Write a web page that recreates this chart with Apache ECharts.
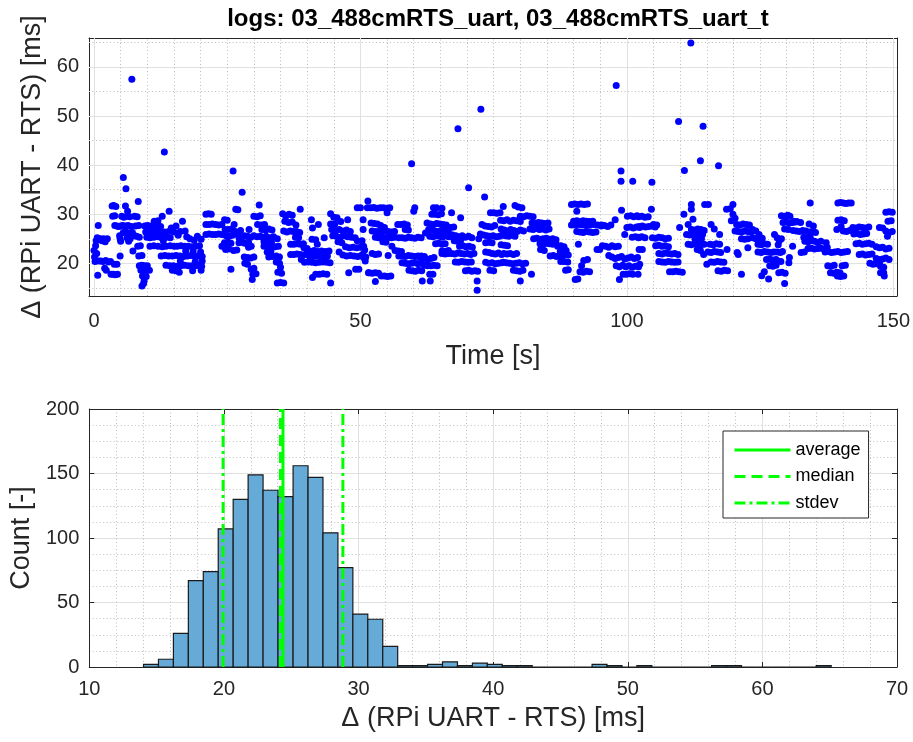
<!DOCTYPE html>
<html><head><meta charset="utf-8">
<script src="https://cdn.jsdelivr.net/npm/echarts@6/dist/echarts.min.js"></script>
<style>html,body{margin:0;padding:0;background:#fff}#c{width:913px;height:742px}</style>
</head><body><div id="c"></div>
<script>
const titleText = 'logs: 03_488cmRTS_uart, 03_488cmRTS_uart_t';
const deltaLabel = '\u0394 (RPi UART - RTS) [ms]';

// scatter points [time s, delta ms]
const ptsSeg1 = [[0.0,22.6],[0.1,21.3],[0.2,20.4],[0.3,23.6],[0.4,24.6],[0.6,25.2],[0.8,27.7],[0.7,17.6],[0.5,22.0],[0.9,20.5],
[1.2,25.0],[1.5,24.6],[1.8,25.0],[2.1,24.4],[2.5,25.0],[1.3,20.5],[1.7,20.4],[2.2,20.6],[2.7,20.3],[3.1,20.4],[2.3,18.6],[2.0,19.0],[3.2,17.8],[3.6,17.8],[4.0,17.7],[4.4,17.8],[3.8,19.8],[4.3,19.8],
[3.4,31.7],[3.7,31.8],[4.1,31.6],[3.5,29.6],[3.9,29.7],[3.9,27.7],[4.3,27.6],[4.6,27.5],[4.8,25.6],[4.9,25.0],[4.9,21.5],[5.0,24.5],
[5.5,37.5],[6.0,35.2],[7.1,57.5],[5.9,31.7],[6.3,30.6],[5.2,29.6],[5.6,29.4],[6.2,29.6],[6.7,29.5],[5.0,27.6],[5.4,27.7],[5.9,27.6],[6.4,27.7],[7.0,27.5],[5.5,26.3],[6.0,26.4],[6.6,26.2],[7.2,26.3],[6.2,25.2],[6.8,25.0],[7.3,22.5],[6.5,24.5],
[7.6,29.6],[8.1,29.5],[8.3,32.6],[7.8,27.6],[8.4,27.7],[7.6,25.6],[8.0,25.5],[8.5,25.3],[8.2,23.5],[8.7,23.6],[8.4,21.5],[9.0,21.6],[8.5,19.5],[9.0,19.6],[9.5,19.5],[10.0,19.5],[8.8,18.6],[9.3,18.7],[9.9,18.6],[10.4,18.6],[9.1,17.4],[9.8,17.3],[9.4,16.4],[9.0,15.4],[9.3,15.9],
[9.5,27.6],[10.0,27.7],[10.5,27.6],[11.0,27.6],[11.5,27.7],[12.0,27.6],[12.5,27.5],[11.3,28.6],[12.0,28.7],[12.8,29.6],[14.1,30.6],[9.7,26.4],[10.3,26.3],[11.0,26.5],[11.8,26.4],[12.5,26.3],[13.2,26.4],[14.0,26.5],[9.9,25.3],[10.5,25.2],[11.2,25.3],[12.0,25.4],[12.7,25.2],[13.5,25.3],[14.3,25.2],[10.5,23.5],[11.2,23.6],[12.0,23.5],[12.8,23.4],[13.5,23.5],[14.3,23.6],[13.2,42.7],
[15.0,23.5],[15.6,23.5],[16.3,23.6],[17.0,23.5],[17.7,23.5],[18.4,23.4],[19.1,23.5],[19.8,23.6],
[12.6,21.5],[13.3,21.6],[14.0,21.5],[14.7,21.5],[15.4,21.6],[16.1,21.5],[16.8,21.4],[17.5,21.5],[18.2,21.6],[18.9,21.5],[19.6,21.5],[20.3,21.4],
[13.5,19.6],[14.2,19.5],[14.9,19.5],[15.6,19.4],[16.3,19.5],[17.0,19.6],[17.7,19.5],[18.4,19.5],[19.1,19.5],[19.8,19.6],[20.2,19.4],
[15.4,18.5],[16.0,18.2],[14.7,18.6],[18.5,18.5],[20.1,18.6],[16.2,20.5],[19.0,20.4],[20.0,22.3],[20.3,20.5],[14.5,27.2],[15.0,26.4],[15.8,25.7],[16.6,28.6],[15.4,27.6],[16.2,26.5],[17.1,26.6],[17.4,25.4],[18.0,25.0],[18.8,24.7],[19.4,25.5],[20.1,24.9],[13.0,24.6],[17.2,22.5],[18.6,22.4],
[21.0,30.0],[21.5,30.1],[22.0,30.0],[21.0,27.9],[21.6,27.9],[22.2,28.0],[22.8,27.9],[23.4,27.8],[24.0,27.9],[21.0,25.9],[21.6,26.0],[22.2,25.9],[22.8,25.9],[23.4,26.0],[24.0,25.9],[24.5,24.0],[24.0,23.5],[24.8,23.9]];

const ptsSeg2 = [[24.5,28.9],[25.0,28.8],[24.6,26.9],[25.2,26.9],[25.8,27.0],[24.8,25.6],[25.4,25.5],[26.0,25.7],[24.5,24.2],[25.1,24.3],[25.7,24.1],[24.7,22.8],[25.3,22.9],[25.7,18.8],[26.1,38.8],
[27.8,34.5],[26.6,31.0],[27.0,30.9],[26.3,27.9],[26.5,26.5],[27.0,26.0],[27.2,25.2],[27.5,26.7],[27.2,24.2],[27.8,24.3],[28.3,24.1],[26.2,22.6],[26.8,22.7],
[29.1,26.9],[28.2,25.6],[28.8,25.5],[29.4,25.3],[30.0,25.6],[30.6,25.4],[31.2,25.5],[28.3,24.2],[29.0,24.3],[29.0,23.3],[29.5,23.5],[28.2,21.3],[28.8,21.2],[29.4,21.1],[30.0,21.3],[28.3,20.0],[28.8,19.8],[29.5,18.8],[30.0,19.0],[29.8,17.8],[30.4,17.9],[29.7,16.7],[31.0,31.9],[30.0,29.6],[30.6,29.5],[31.2,29.7],[30.7,27.9],[31.4,27.8],[32.0,27.9],
[31.5,26.9],[32.2,26.8],[32.8,27.0],[33.4,26.8],[31.6,25.3],[32.3,25.5],[33.0,25.2],[33.7,25.4],[34.4,25.0],[31.9,24.4],[32.6,24.6],[33.3,24.3],[31.9,23.5],[32.6,23.3],[33.3,23.6],[34.0,23.4],[34.6,23.5],[32.5,22.3],[33.2,22.5],[32.8,21.3],[33.5,21.4],[34.2,21.5],[34.8,21.3],[34.2,20.3],[34.8,20.0],[35.0,19.2],[34.5,18.2],[35.2,18.0],[34.4,16.0],[35.0,16.1],[35.6,16.0],
[35.4,30.1],[36.0,29.6],[36.6,30.0],[37.2,29.8],[38.7,31.0],[35.8,28.6],[36.5,28.3],[37.2,28.4],[37.9,27.8],[35.6,26.6],[36.2,26.4],[36.8,26.6],[37.4,26.5],[38.0,26.5],[38.6,26.3],[37.8,25.3],[38.4,25.2],[36.9,23.9],[37.5,23.9],[38.1,24.0],[38.7,23.9],[39.3,24.0],[36.9,21.8],[37.5,21.8],[38.1,21.9],[38.7,21.8],[39.3,21.7],[38.9,20.8],[39.5,20.2],[39.4,23.2],[40.0,23.0],
[40.8,28.9],[41.0,27.2],[42.1,27.9],[40.9,24.9],[41.6,24.8],[41.9,23.9],[40.0,22.5],[40.6,22.4],[41.3,22.6],[42.0,22.4],[42.7,22.5],[43.4,22.4],[44.1,22.5],[40.4,21.5],[41.0,21.4],[41.7,21.5],[42.4,21.6],[43.1,21.4],[43.8,21.5],[40.2,20.3],[40.9,20.2],[41.6,20.1],[42.3,20.2],[43.0,20.3],[43.7,20.2],[44.3,20.1],[41.6,17.8],[42.3,17.8],[43.0,17.9],[43.7,17.8],[41.0,17.1],[44.4,16.0],[43.2,25.2],
[44.4,30.1],[45.0,29.4],[45.6,29.3],[46.3,28.5],[47.6,28.9],[44.4,28.0],[45.2,28.0],[44.6,26.9],[45.3,26.7],[46.0,26.9],[46.7,26.6],[47.4,26.8],[48.1,26.5],[44.8,25.6],[45.5,25.5],[46.2,25.3],[46.9,25.6],[47.6,25.4],[48.3,25.3],[49.0,25.2],[49.4,24.6],[45.8,24.4],[46.5,24.2],[47.2,23.4],[47.9,23.2],[48.6,23.3],[49.3,23.2],[50.0,23.3],[46.0,22.3],[46.7,21.7],[47.4,21.5],[48.1,21.6],[48.8,21.5],[49.5,21.4],[50.2,21.6],[50.6,21.2],[49.1,18.8],[49.7,18.8],[47.8,18.1],[49.4,31.3],[50.0,31.3]];

const ptsSeg3 = [[50.5,28.9],[50.5,26.9],[50.3,24.6],[50.6,23.5],[50.8,22.7],[50.4,21.8],[51.0,21.3],[51.5,18.1],[50.9,20.5],
[51.4,32.7],[51.3,31.3],[51.9,31.3],[52.5,31.4],[53.1,31.2],[53.7,31.3],[54.3,31.3],[54.9,31.2],[55.5,31.3],[55.0,30.3],[52.0,28.2],[52.6,28.1],[53.2,28.0],[53.8,27.7],[54.5,27.3],[52.2,26.6],[52.8,26.5],[53.4,26.5],[54.0,26.4],[54.6,26.6],[55.2,26.5],[55.8,26.4],[56.4,26.5],[52.8,25.3],[53.4,25.2],[54.0,25.4],[54.6,25.2],[55.2,25.3],[55.8,25.2],[56.4,25.3],[54.2,24.4],[54.8,24.3],[52.2,22.0],[52.8,21.8],[53.4,21.9],[51.6,18.1],[52.2,18.0],[52.8,18.1],[53.4,18.0],[53.9,17.4],[54.5,17.4],[55.1,17.3],[55.7,17.4],[52.8,16.3],[55.9,23.5],[55.2,21.6],
[59.6,40.3],[60.0,30.6],[60.2,31.3],[57.0,27.9],[57.6,27.9],[58.2,28.0],[58.8,27.8],[58.4,26.9],[59.0,26.8],[57.2,25.2],[57.8,25.2],[58.4,25.1],[59.0,25.3],[59.6,25.2],[60.2,25.1],[60.8,25.3],[61.4,25.2],[56.5,22.6],[57.1,22.5],[57.7,22.4],[57.2,21.5],[57.8,21.5],[58.4,21.4],[59.0,21.6],[59.6,21.5],[60.2,21.4],[60.8,21.5],[61.4,21.5],[62.0,21.4],[57.8,20.1],[58.4,20.0],[59.0,19.9],[59.6,20.0],[60.2,20.1],[60.8,19.9],[61.4,20.0],[59.1,18.6],[59.7,18.5],[60.3,18.4],[60.9,18.6],[61.5,18.5],[61.6,16.4],[62.2,26.2],
[63.7,31.3],[64.3,31.3],[65.3,31.2],[63.4,30.0],[64.0,30.0],[64.6,29.9],[65.2,30.1],[62.5,28.2],[63.1,28.0],[63.7,27.9],[64.3,28.1],[64.9,28.0],[65.5,27.9],[66.1,27.8],[62.8,26.9],[63.4,26.8],[64.0,26.6],[64.6,26.5],[65.2,26.7],[65.8,26.6],[66.4,26.5],[63.0,25.5],[63.6,25.4],[64.2,25.6],[64.8,25.5],[65.4,25.3],[66.0,25.6],[66.6,25.4],[64.1,24.0],[64.7,24.1],[65.3,23.9],[65.9,24.0],[65.3,22.5],[65.9,22.4],[66.5,22.6],[61.2,21.2],[62.0,21.1],[62.6,20.7],[63.2,21.0],[63.8,21.2],[62.0,19.6],[62.6,19.5],[63.2,19.5],[63.8,19.6],[64.4,19.5],[63.0,17.8],[63.6,17.8],[63.1,16.4],
[67.1,30.3],[68.8,29.3],[68.3,47.4],[70.3,35.4],[66.9,27.3],[67.5,27.4],[66.7,26.0],[67.3,25.8],[67.9,25.6],[68.5,25.4],[69.1,25.6],[69.7,25.3],[70.3,25.5],[70.9,25.2],[67.6,24.6],[68.2,24.5],[68.8,24.7],[68.6,23.5],[69.2,23.6],[69.8,23.4],[70.4,23.5],[71.0,23.3],[65.3,22.0],[65.9,21.9],[66.5,22.0],[67.1,22.0],[67.7,21.9],[68.3,22.1],[68.9,22.0],[69.5,21.9],[70.1,22.0],[70.7,21.8],[71.3,22.0],[67.8,20.3],[68.4,20.2],[69.0,20.4],[69.6,20.3],[70.2,20.2],[70.8,20.3],[69.7,18.5],[70.3,18.6],[70.9,18.4],[71.5,18.5],[72.0,18.4],[71.9,16.4],[71.9,14.5],
[72.6,51.4],[73.3,33.5],[74.4,30.3],[75.0,30.3],[75.6,30.2],[76.2,30.3],[72.8,27.9],[73.4,27.6],[74.0,27.5],[74.6,27.4],[75.2,27.7],[72.5,26.0],[73.1,25.8],[73.7,25.6],[74.3,25.5],[74.9,25.6],[75.5,25.4],[76.1,25.5],[73.5,24.2],[74.1,24.3],[74.7,24.2],[73.5,22.3],[74.1,22.2],[74.7,22.0],[75.3,21.9],[75.9,22.1],[76.5,21.8],[73.5,20.2],[74.1,20.0],[74.7,20.1],[75.3,19.9],[75.9,20.0],[76.5,20.1],[74.3,18.6],[75.0,18.5],[72.2,25.0]];

const ptsSeg4 = [[76.8,31.6],[79.0,31.8],[79.6,31.5],[80.3,31.3],[76.3,28.8],[76.9,28.7],[77.5,28.9],[78.1,28.6],[78.7,28.8],[79.3,28.7],[80.0,28.5],[76.4,27.0],[77.0,26.8],[77.6,26.6],[78.2,26.9],[78.8,26.7],[79.4,26.5],[80.0,26.8],[80.6,26.6],[76.6,25.8],[77.2,25.6],[77.8,25.5],[78.4,25.7],[79.0,25.5],[76.4,23.8],[77.0,23.7],[77.6,23.6],[76.9,22.0],[77.5,21.9],[78.1,22.0],[78.7,21.8],[79.3,22.0],[76.8,20.2],[77.4,20.1],[78.0,20.0],[78.6,19.9],[79.2,20.0],[79.8,20.1],[80.4,19.9],[81.0,20.0],[78.7,18.6],[79.3,18.5],[79.9,18.4],[80.5,18.6],[80.0,16.4],[82.1,17.8],
[80.0,29.6],[80.6,29.5],[81.2,29.7],[81.8,29.6],[82.4,29.5],[82.2,28.2],[82.8,28.1],[83.4,28.3],[84.0,28.2],[84.6,28.1],[85.2,28.2],[81.8,27.0],[82.4,26.9],[83.0,27.1],[83.6,26.9],[84.2,27.0],[84.8,26.8],[85.4,27.0],[82.5,25.0],[83.1,25.1],[83.7,24.9],[84.3,25.0],[84.9,25.1],[85.5,24.9],[86.1,25.0],[86.7,24.8],[83.7,24.0],[84.3,23.9],[84.9,24.1],[85.5,24.0],[86.1,23.9],[86.7,24.0],[83.8,22.8],[84.5,22.6],[85.6,21.5],[86.2,21.6],[86.8,21.4],[87.4,21.5],[88.0,21.6],[87.6,20.4],[88.2,20.4],[88.9,20.3],[88.5,18.6],[89.0,18.7],
[87.0,23.5],[87.6,23.6],[88.2,23.4],[88.6,22.6],[87.5,22.4],[89.0,21.7],[91.5,19.5],[91.9,20.6],[92.6,20.8],[91.2,18.3],[91.8,18.2],[92.4,18.4],[93.0,18.3],[90.3,16.7],[90.8,16.8],[89.6,32.0],[90.2,32.1],[90.8,32.0],[91.4,32.1],[92.0,32.0],[92.6,32.1],[90.6,30.6],[90.0,28.6],[90.6,28.7],[91.2,28.5],[91.8,28.7],[92.4,28.6],[93.0,28.5],[93.6,28.6],[89.6,27.8],[90.3,27.8],[91.0,27.9],[91.7,27.8],[92.4,27.7],[93.1,27.8],[93.8,27.9],[94.5,27.8],[95.2,27.8],[90.6,26.5],[91.2,26.4],[91.8,26.3],[92.4,26.5],[93.0,26.4],[93.6,26.3],[94.2,26.4],[90.9,23.9],[94.4,22.8],[94.9,22.8],
[98.0,56.2],[98.9,38.8],[98.9,36.7],[101.1,36.7],[99.0,30.8],[97.8,28.9],[95.2,27.6],[95.8,27.7],[96.4,27.5],[97.0,27.8],[99.6,25.9],[95.4,23.6],[96.0,23.5],[96.6,23.3],[97.2,23.6],[97.8,23.4],[98.4,23.5],[96.6,21.6],[97.2,21.3],[97.8,21.0],[98.4,21.2],[99.0,21.4],[99.6,20.9],[100.2,21.1],[100.8,21.3],[101.4,21.0],[102.0,21.2],[98.0,19.5],[98.6,19.3],[99.2,19.6],[99.8,19.3],[100.4,19.5],[101.0,19.2],[101.6,19.4],[102.2,19.3],[99.3,17.8],[99.9,17.8],[100.5,17.9],[101.1,17.8],[98.6,16.7],[100.1,29.6],[100.7,29.7],[101.3,29.5],[101.9,29.7],[100.0,27.3],[100.6,27.4],[101.2,27.2],[101.8,27.4],[102.4,27.3],[101.0,25.3],[101.6,25.4],[102.2,25.2]];

const ptsSeg5 = [[102.2,29.5],[102.8,29.6],[103.4,29.4],[104.0,29.5],[104.6,31.0],[102.3,27.5],[102.9,27.6],[103.5,27.4],[104.1,27.5],[104.7,27.6],[105.3,27.4],[102.2,25.3],[102.8,25.4],[103.4,25.2],[102.3,22.8],[102.9,22.8],[102.4,19.8],[102.1,17.8],[104.7,36.5],
[105.0,27.9],[105.6,27.8],[104.8,25.2],[105.4,25.1],[106.0,25.3],[106.6,25.2],[107.2,25.0],[107.8,25.1],[105.4,23.6],[106.0,23.7],[106.6,23.5],[107.2,23.6],[107.8,23.4],[106.0,22.0],[106.6,21.9],[107.2,22.1],[107.8,22.0],[108.4,21.9],[109.0,22.0],[109.6,21.8],[106.0,20.4],[106.6,20.3],[107.2,20.2],[107.8,20.4],[108.4,20.3],[109.0,20.2],[109.6,20.3],[108.0,18.3],[108.6,18.3],[109.2,18.4],[109.8,18.3],[110.4,18.2],[109.9,27.3],
[109.7,48.9],[112.0,64.9],[110.8,38.9],[114.3,47.9],[113.8,40.9],[112.1,32.0],[112.1,31.0],[110.7,30.0],[112.4,29.0],[111.5,27.9],[112.1,26.9],[112.7,26.8],[113.3,27.0],[113.9,26.9],[114.5,26.7],[111.2,25.9],[111.8,25.8],[112.4,26.0],[113.0,25.9],[113.6,25.8],[114.2,25.9],[112.8,24.9],[113.4,24.8],[114.0,25.0],[111.5,23.9],[112.1,23.8],[112.7,24.0],[113.3,23.9],[113.9,23.8],[114.5,23.9],[113.2,22.8],[113.8,22.6],[114.4,21.8],[115.0,19.8],[114.6,32.0],[115.3,32.0],
[117.2,39.9],[115.8,27.9],[116.4,27.0],[117.4,25.9],[115.6,23.9],[116.2,23.8],[116.8,24.0],[117.4,23.9],[115.2,22.3],[115.8,22.2],[116.4,22.4],[117.0,22.3],[117.6,22.2],[118.8,22.8],[115.8,20.3],[116.4,20.2],[117.0,20.4],[117.6,20.3],[118.2,20.2],[117.1,18.5],[117.7,18.4],[118.3,18.6],[118.9,18.5],[120.7,22.2],
[119.9,32.0],[118.7,31.0],[119.4,31.1],[119.9,30.0],[120.3,29.2],[119.6,28.7],[120.6,27.9],[121.2,27.8],[121.8,28.0],[122.4,27.9],[123.0,27.8],[120.3,26.6],[120.9,26.5],[121.5,26.4],[122.1,26.6],[122.7,26.5],[123.3,26.4],[121.5,25.0],[122.1,24.9],[122.7,25.0],[122.7,23.2],[120.9,21.8],[121.5,17.8],
[123.6,26.9],[124.2,26.6],[124.8,25.9],[123.6,25.2],[124.2,25.0],[124.8,24.9],[125.4,25.1],[124.6,23.9],[125.2,23.8],[125.8,24.0],[126.4,23.9],[124.6,22.3],[125.2,22.2],[125.8,22.4],[126.4,22.3],[127.0,22.2],[127.6,22.3],[126.2,20.8],[126.8,20.9],[127.4,20.7],[128.0,20.8],[126.8,19.5],[127.4,19.4],[128.0,19.6],[127.7,25.9],[125.3,17.5],[125.8,18.3],[126.6,16.8]];

const ptsSeg6 = [[128.2,25.2],[128.6,24.6],[129.0,25.0],[128.4,23.8],[128.2,22.3],[128.8,22.2],[129.2,22.4],[128.3,20.5],[128.9,20.4],[128.5,18.1],[129.1,18.2],[129.7,18.0],[129.6,15.9],[129.0,29.7],[129.6,29.6],[130.2,29.8],[130.6,29.6],[129.3,28.3],[129.9,28.4],[130.5,28.2],[131.1,28.3],[131.7,28.4],[129.6,27.0],[130.3,26.9],[131.1,23.5],[130.5,21.2],[130.4,20.1],
[134.4,32.3],[131.3,28.6],[131.9,28.5],[132.6,28.3],[131.2,26.7],[131.8,26.6],[132.4,26.5],[133.0,26.7],[133.6,26.6],[134.2,26.4],[134.8,26.5],[135.4,26.3],[133.2,25.3],[133.8,25.2],[134.4,25.3],[133.4,24.5],[134.0,24.4],[134.6,24.6],[135.2,24.5],[135.8,24.3],[136.4,24.5],[134.0,23.0],[134.6,23.1],[135.2,22.9],[135.8,23.0],[136.4,23.1],[137.0,22.9],[132.7,22.2],[133.3,22.3],[134.2,28.0],[135.0,27.6],[137.7,19.5],[138.3,19.4],[138.9,19.6],[138.2,18.1],[138.8,18.0],[139.4,18.2],[140.0,18.1],[139.5,17.4],[140.1,17.3],[140.7,17.4],
[137.4,24.2],[137.6,23.3],[137.2,22.3],[137.8,22.4],[138.4,22.2],[139.0,22.3],[139.6,22.4],[140.2,22.2],[140.8,22.3],[141.4,22.4],[140.4,19.5],[141.0,19.6],[139.6,32.3],[140.1,32.4],[140.6,32.3],[141.1,32.2],[141.6,32.3],[142.1,32.3],[139.6,28.8],[140.2,28.9],[140.8,28.7],[140.2,27.5],[140.6,26.6],[141.2,26.5],[141.8,26.7],[139.4,26.9],
[142.4,27.3],[143.0,27.2],[143.6,27.4],[144.2,27.3],[144.8,27.2],[145.4,27.4],[142.6,26.0],[143.2,26.1],[143.8,25.9],[144.4,26.0],[145.0,26.1],[143.0,24.0],[143.6,24.1],[144.2,23.9],[144.8,24.0],[145.4,24.1],[146.0,23.9],[143.6,21.8],[144.2,21.9],[144.8,21.7],[145.4,21.8],[146.0,21.9],[145.6,20.0],[146.2,19.8],[146.8,19.9],[147.4,20.1],[147.6,18.1],[148.2,18.1],[148.3,17.4],
[148.6,30.4],[149.2,30.5],[149.8,30.4],[149.0,28.6],[149.6,28.7],[147.4,27.3],[148.0,27.2],[148.6,26.6],[149.2,26.3],[149.8,26.5],[148.9,25.5],[146.8,23.4],[147.4,23.2],[148.0,23.3],[148.6,22.9],[149.2,23.1],[146.8,21.0],[147.4,20.8],[148.0,20.9],[148.6,21.1],[149.2,20.8],[147.6,19.4],[148.2,19.2]];

// histogram
const binEdges = [14.03,15.14,16.25,17.36,18.47,19.58,20.69,21.80,22.91,24.02,25.14,26.25,27.36,28.47,29.58,30.69,31.80,32.91,34.02,35.13,36.24,37.35,38.46,39.57,40.68,41.79,42.90,44.01,45.12,46.23,47.35,48.46,49.57,50.68,51.79,52.90,54.01,55.12,56.23,57.34,58.45,59.56,60.67,61.78,62.89,64.00,65.11];
const binCounts = [2,6,26,67,74,107,130,149,137,132,156,147,104,77,41,37,16,1,1,2,4,1,3,2,1,1,0,0,0,0,2,1,0,1,0,0,0,0,1,1,0,0,0,0,0,1];
const averageMs = 24.39, medianMs = 24.2, stdevLowMs = 19.94, stdevHighMs = 28.84;

// axis ticks / grid values
const topXRange = [-0.94, 150.69], topYRange = [13.35, 65.9];
const topXTicks = [0, 50, 100, 150];
const topYTicks = [20, 30, 40, 50, 60];
const topXMinor = [5,10,15,20,25,30,35,40,45,55,60,65,70,75,80,85,90,95,105,110,115,120,125,130,135,140,145];
const topYMinor = [15, 25, 35, 45, 55, 65];

const FONT = "'Liberation Sans', Arial, Helvetica, sans-serif";
const AX = '#262626';
const majorGrid = {color: '#e1e1e1', width: 1, type: 'solid'};
const minorGrid = {color: '#bdbdbd', width: 1, type: [1, 2.5]};

const allPts = ptsSeg1.concat(ptsSeg2, ptsSeg3, ptsSeg4, ptsSeg5, ptsSeg6);

const gridLineData = []
  .concat(topXTicks.map(v => ({xAxis: v, lineStyle: majorGrid})))
  .concat(topYTicks.map(v => ({yAxis: v, lineStyle: majorGrid})))
  .concat(topXMinor.map(v => ({xAxis: v, lineStyle: minorGrid})))
  .concat(topYMinor.map(v => ({yAxis: v, lineStyle: minorGrid})));

function boxAxis(extra) {
  return Object.assign({
    type: 'value',
    axisLine: {show: true, onZero: false, lineStyle: {color: AX, width: 1}},
    axisTick: {show: true, inside: true, length: 5, lineStyle: {color: AX}},
    axisLabel: {show: false},
    splitLine: {show: false}
  }, extra);
}

const chart = echarts.init(document.getElementById('c'), null, {renderer: 'canvas'});
chart.setOption({
  animation: false,
  backgroundColor: '#fff',
  textStyle: {fontFamily: FONT},
  title: {
    text: titleText, left: 493, top: 2, textAlign: 'center',
    textStyle: {fontSize: 24, fontWeight: 'bold', color: '#000', fontFamily: FONT}
  },
  grid: [
    {left: 89, top: 38, width: 808, height: 258, containLabel: false},
    {left: 89, top: 409, width: 808, height: 258, containLabel: false}
  ],
  legend: {
    data: ['average', 'median', 'stdev'],
    orient: 'vertical', left: 723, top: 431,
    padding: [10, 8, 6, 10], itemWidth: 56, itemHeight: 14, itemGap: 8.5,
    borderColor: AX, borderWidth: 1, backgroundColor: '#fff',
    itemStyle: {opacity: 0},
    lineStyle: {width: 3},
    textStyle: {fontSize: 18, color: '#000', fontFamily: FONT},
    selectedMode: false
  },
  xAxis: [
    boxAxis({gridIndex: 0, position: 'bottom', min: topXRange[0], max: topXRange[1],
      axisTick: {show: true, inside: true, length: 5, customValues: topXTicks, lineStyle: {color: AX}},
      axisLabel: {show: true, customValues: topXTicks, fontSize: 20, color: AX, margin: 15, fontFamily: FONT},
      name: 'Time [s]', nameLocation: 'middle', nameGap: 47,
      nameTextStyle: {fontSize: 27, color: AX, fontFamily: FONT}}),
    boxAxis({gridIndex: 0, position: 'top', min: topXRange[0], max: topXRange[1],
      axisTick: {show: true, inside: true, length: 5, customValues: topXTicks, lineStyle: {color: AX}}}),
    boxAxis({gridIndex: 1, position: 'bottom', min: 10, max: 70, interval: 10,
      axisLabel: {show: true, fontSize: 20, color: AX, margin: 12, fontFamily: FONT},
      splitLine: {show: true, lineStyle: majorGrid},
      minorTick: {show: false, splitNumber: 5},
      minorSplitLine: {show: true, lineStyle: minorGrid},
      name: deltaLabel, nameLocation: 'middle', nameGap: 38,
      nameTextStyle: {fontSize: 27, color: AX, fontFamily: FONT}}),
    boxAxis({gridIndex: 1, position: 'top', min: 10, max: 70, interval: 10})
  ],
  yAxis: [
    boxAxis({gridIndex: 0, position: 'left', min: topYRange[0], max: topYRange[1],
      axisTick: {show: true, inside: true, length: 5, customValues: topYTicks, lineStyle: {color: AX}},
      axisLabel: {show: true, customValues: topYTicks, fontSize: 20, color: AX, margin: 10, fontFamily: FONT},
      name: deltaLabel, nameLocation: 'middle', nameGap: 33,
      nameTextStyle: {fontSize: 27, color: AX, fontFamily: FONT}}),
    boxAxis({gridIndex: 0, position: 'right', min: topYRange[0], max: topYRange[1],
      axisTick: {show: true, inside: true, length: 5, customValues: topYTicks, lineStyle: {color: AX}}}),
    boxAxis({gridIndex: 1, position: 'left', min: 0, max: 200, interval: 50,
      axisLabel: {show: true, fontSize: 20, color: AX, margin: 10, fontFamily: FONT},
      splitLine: {show: true, lineStyle: majorGrid},
      minorTick: {show: false, splitNumber: 4},
      minorSplitLine: {show: true, lineStyle: minorGrid},
      name: 'Count [-]', nameLocation: 'middle', nameGap: 42,
      nameTextStyle: {fontSize: 27, color: AX, fontFamily: FONT}}),
    boxAxis({gridIndex: 1, position: 'right', min: 0, max: 200, interval: 50})
  ],
  series: [
    {
      type: 'scatter', name: 'delta', xAxisIndex: 0, yAxisIndex: 0,
      data: allPts, symbolSize: 7, itemStyle: {color: '#0000ff', opacity: 1},
      z: 3, silent: true,
      markLine: {silent: true, symbol: ['none', 'none'], label: {show: false}, z: 1,
        animation: false, emphasis: {disabled: true}, data: gridLineData}
    },
    {
      type: 'custom', name: 'hist', xAxisIndex: 2, yAxisIndex: 2, z: 2, silent: true,
      data: binCounts.map((c, i) => [binEdges[i], binEdges[i + 1], c]),
      encode: {x: [0, 1], y: 2},
      renderItem: function (params, api) {
        const p0 = api.coord([api.value(0), api.value(2)]);
        const p1 = api.coord([api.value(1), 0]);
        return {type: 'rect', shape: {x: p0[0], y: p0[1], width: p1[0] - p0[0], height: p1[1] - p0[1]},
          style: {fill: '#66aad7', stroke: '#1a1a1a', lineWidth: 1.2}};
      }
    },
    {type: 'line', name: 'average', xAxisIndex: 2, yAxisIndex: 2, z: 5, symbol: 'none', silent: true,
      data: [[averageMs, 0], [averageMs, 200]], lineStyle: {color: '#00ff00', width: 3, type: 'solid'}, itemStyle: {color: '#00ff00'}},
    {type: 'line', name: 'median', xAxisIndex: 2, yAxisIndex: 2, z: 5, symbol: 'none', silent: true,
      data: [[medianMs, 0], [medianMs, 200]], lineStyle: {color: '#00ff00', width: 3, type: [11, 6]}, itemStyle: {color: '#00ff00'}},
    {type: 'line', name: 'stdev', xAxisIndex: 2, yAxisIndex: 2, z: 5, symbol: 'none', silent: true,
      data: [[stdevLowMs, 0], [stdevLowMs, 200]], lineStyle: {color: '#00ff00', width: 3, type: [11, 4, 3, 4]}, itemStyle: {color: '#00ff00'}},
    {type: 'line', name: 'stdev', xAxisIndex: 2, yAxisIndex: 2, z: 5, symbol: 'none', silent: true,
      data: [[stdevHighMs, 0], [stdevHighMs, 200]], lineStyle: {color: '#00ff00', width: 3, type: [11, 4, 3, 4]}, itemStyle: {color: '#00ff00'}}
  ]
});
</script>
</body></html>
